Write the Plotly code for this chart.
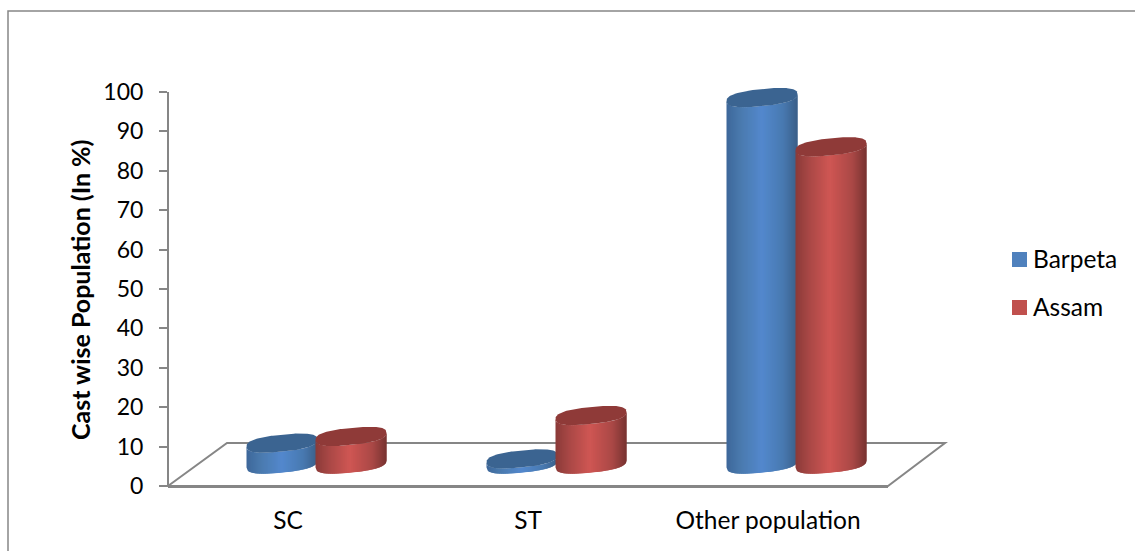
import numpy as np
import plotly.graph_objects as go

# Population share by caste group, in percent
categories = ["SC", "ST", "Other population"]
barpeta = [5.3, 1.3, 93.0]
assam = [7.0, 12.3, 80.5]
y_ticks = list(range(0, 101, 10))
series_names = ["Barpeta", "Assam"]
y_title = "Cast wise Population (In %)"

WIDTH, HEIGHT = 1135, 551
LEFT, RIGHT, AXIS_TOP, BOTTOM = 168, 888, 92, 486
PLOT_TOP = 70                    # room above 100 so the tallest cap is not clipped
PX_X = (RIGHT - LEFT) / 3.0      # pixels per category
PX_Y = (BOTTOM - AXIS_TOP) / 100.0    # pixels per percent
Y_MAX = (BOTTOM - PLOT_TOP) / PX_Y

GREY = "#868686"
FONT = "Lato, Carlito, Calibri, sans-serif"

# Cylinder geometry, in axis units
DEPTH_X = 28.5 / PX_X
BASE_Y = 22.0 / PX_Y
RADIUS_X = 35.5 / PX_X
RADIUS_Y = 8.5 / PX_Y
TILT_Y = 3.5 / PX_Y
OFFSET = 34.5 / PX_X
ROUNDNESS = 2.6
STRIPS = 36

BLUE_STOPS = [(0.0, "#3d679a"), (0.2, "#4a7aae"), (0.5, "#5388cd"), (0.8, "#4879b0"), (1.0, "#3a5f88")]
RED_STOPS = [(0.0, "#8a3a38"), (0.2, "#aa4846"), (0.48, "#cf5653"), (0.8, "#aa4846"), (1.0, "#773331")]
BLUE_TOP = "#3b6491"
RED_TOP = "#8f3a38"
BLUE_KEY = "#4f81bd"
RED_KEY = "#c0504d"


def rgb(hex_color):
    return np.array([int(hex_color[i:i + 2], 16) for i in (1, 3, 5)], dtype=float)


def shade(stops, t):
    pos = [s[0] for s in stops]
    cols = np.array([rgb(s[1]) for s in stops])
    c = [np.interp(t, pos, cols[:, k]) for k in range(3)]
    return "rgb(%d,%d,%d)" % tuple(int(round(v)) for v in c)


def rim(u):
    """Front edge of the tilted ellipse at normalised position u."""
    arc = np.clip(1 - np.abs(u) ** ROUNDNESS, 0, 1) ** (1 / ROUNDNESS)
    return -RADIUS_Y * arc + TILT_Y * u


def cylinder(cx, value, stops, top_color):
    traces = []
    bottom = BASE_Y
    top = BASE_Y + value
    # Body: overlapping vertical slices painted left to right
    edges = np.linspace(-1, 1, STRIPS + 1)
    for i in range(STRIPS):
        u0, u1 = edges[i], edges[min(i + 2, STRIPS)]
        us = np.linspace(u0, u1, 7)
        xs = cx + RADIUS_X * us
        x = np.concatenate([xs, xs[::-1]])
        y = np.concatenate([bottom + rim(us), (top + rim(us))[::-1]])
        traces.append(go.Scatter(
            x=x, y=y, mode="lines", fill="toself", line=dict(width=0),
            fillcolor=shade(stops, (edges[i] + 1) / 2 + 0.5 / STRIPS),
            hoverinfo="skip", showlegend=False,
        ))
    # Top cap
    t = np.linspace(0, 2 * np.pi, 181)
    cu = np.sign(np.cos(t)) * np.abs(np.cos(t)) ** (2 / ROUNDNESS)
    su = np.sign(np.sin(t)) * np.abs(np.sin(t)) ** (2 / ROUNDNESS)
    traces.append(go.Scatter(
        x=cx + RADIUS_X * cu,
        y=top + RADIUS_Y * su + TILT_Y * cu,
        mode="lines", fill="toself", line=dict(width=0),
        fillcolor=top_color, hoverinfo="skip", showlegend=False,
    ))
    return traces


def paper_x(px):
    return (px - LEFT) / (RIGHT - LEFT)


def paper_y(px):
    return (BOTTOM - px) / (BOTTOM - PLOT_TOP)


def polyline(points, close=False):
    path = "M " + " L ".join(f"{paper_x(x)} {paper_y(y)}" for x, y in points)
    return path + (" Z" if close else "")


fig = go.Figure()

for i in range(len(categories)):
    centre = i + DEPTH_X
    for tr in cylinder(centre - OFFSET, barpeta[i], BLUE_STOPS, BLUE_TOP):
        fig.add_trace(tr)
    for tr in cylinder(centre + OFFSET, assam[i], RED_STOPS, RED_TOP):
        fig.add_trace(tr)

line_style = dict(color=GREY, width=2)
shapes = [
    # Chart floor in perspective
    dict(type="path", xref="paper", yref="paper", layer="below", line=line_style,
         path=polyline([(168, 486), (227, 443), (945, 443), (888, 486)], close=True)),
    # Value axis line, stopping at 100
    dict(type="line", xref="paper", yref="paper", layer="below", line=line_style,
         x0=0, x1=0, y0=0, y1=paper_y(AXIS_TOP)),
    # Chart area border
    dict(type="path", xref="paper", yref="paper", layer="below",
         line=dict(color=GREY, width=1.5),
         path=polyline([(8, 551), (8, 11), (1135, 11)])),
]

# Value axis title, centred on the 0-100 span
annotations = [dict(
    text=f"<b>{y_title}</b>", xref="paper", yref="paper", showarrow=False,
    x=paper_x(80), y=paper_y(290), textangle=-90, xanchor="center", yanchor="middle",
    font=dict(size=25),
)]

# Legend keys and labels
for name, color, key_top in zip(series_names, (BLUE_KEY, RED_KEY), (252, 300)):
    shapes.append(dict(type="rect", xref="paper", yref="paper", line=dict(width=0),
                       fillcolor=color, x0=paper_x(1012), x1=paper_x(1027),
                       y0=paper_y(key_top), y1=paper_y(key_top + 15)))
    annotations.append(dict(text=name, xref="paper", yref="paper", showarrow=False,
                            x=paper_x(1034), y=paper_y(key_top + 6.5),
                            xanchor="left", yanchor="middle", xshift=-3,
                            font=dict(size=24.5)))

fig.update_layout(
    width=WIDTH, height=HEIGHT, autosize=False, showlegend=False,
    margin=dict(l=LEFT, r=WIDTH - RIGHT, t=PLOT_TOP, b=HEIGHT - BOTTOM, pad=0),
    paper_bgcolor="white", plot_bgcolor="rgba(0,0,0,0)",
    font=dict(family=FONT, size=24, color="#000000"),
    xaxis=dict(
        range=[-0.5, 2.5], tickvals=[0, 1, 2], ticktext=categories,
        showgrid=False, zeroline=False, ticks="", showline=True,
        linecolor=GREY, linewidth=2, ticklabelstandoff=12,
        tickfont=dict(size=24.5),
    ),
    yaxis=dict(
        range=[0, Y_MAX], tickvals=y_ticks, showgrid=False, zeroline=False,
        ticks="outside", ticklen=8, tickwidth=2, tickcolor=GREY,
        showline=False, ticklabelstandoff=11, tickfont=dict(size=23),
    ),
    shapes=shapes,
    annotations=annotations,
)

fig.write_html("out.html")
